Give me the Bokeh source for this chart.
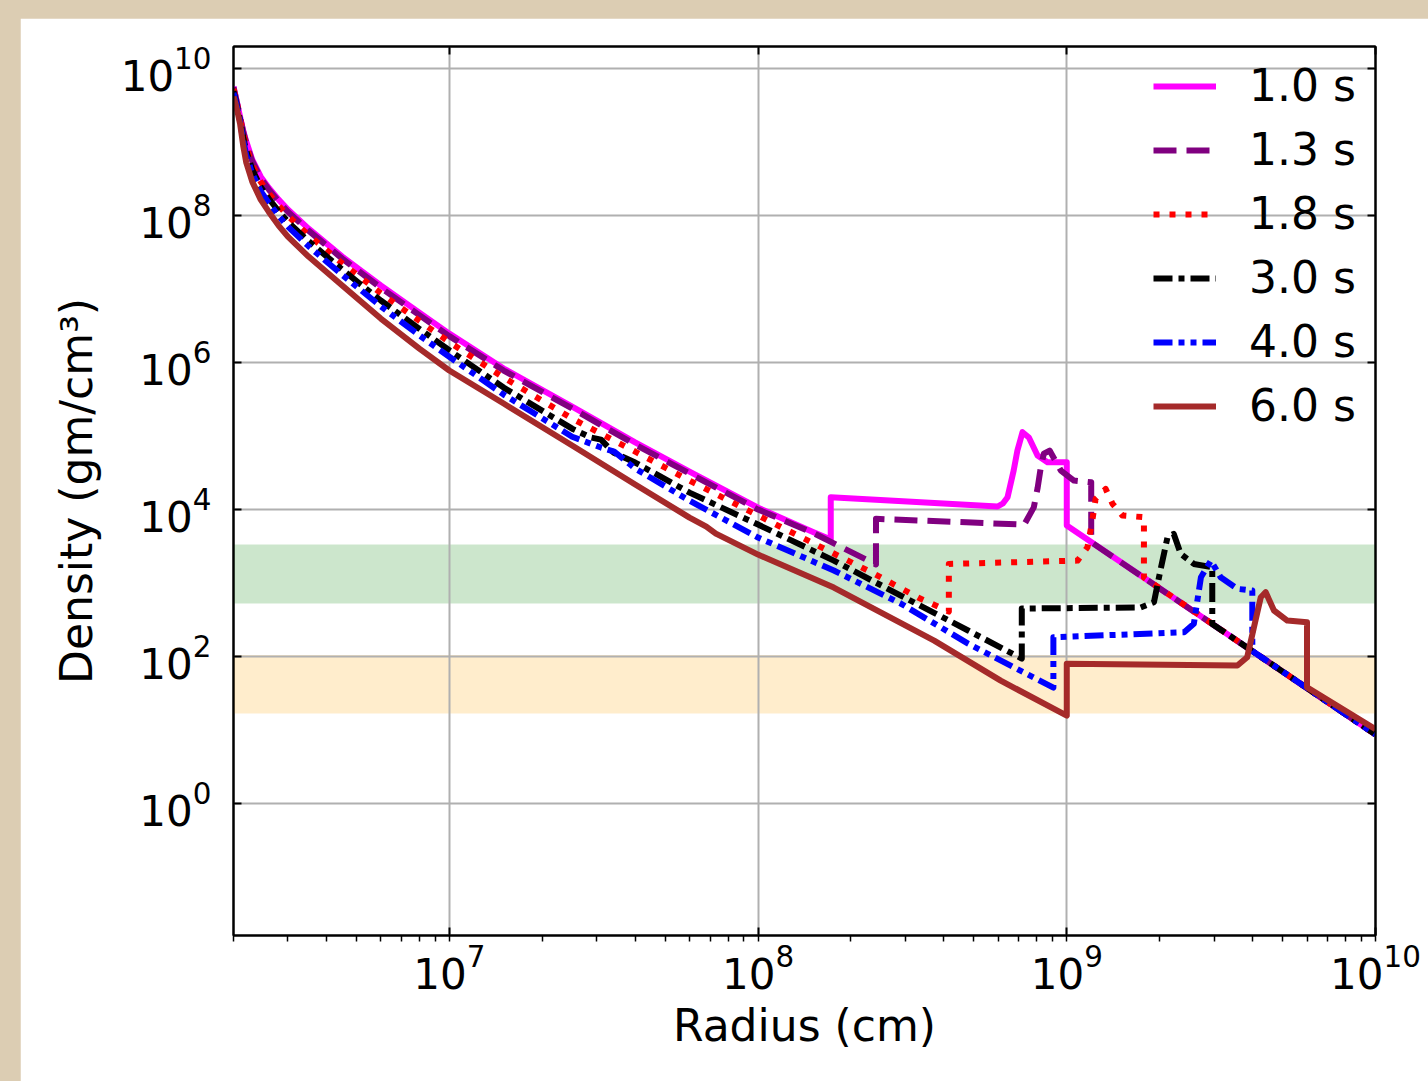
from bokeh.plotting import figure
from bokeh.models import (LogAxis, LogTicker, FixedTicker, Legend, LegendItem,
                          BoxAnnotation, Spacer, Range1d, CustomJSTickFormatter)
from bokeh.layouts import column, row
from bokeh.embed import file_html
from bokeh.resources import INLINE

# ---------------- data (radius in cm, density in gm/cm^3) ----------------
labels = ["1.0 s", "1.3 s", "1.8 s", "3.0 s", "4.0 s", "6.0 s"]

# radii shared by the inner (unshocked) part of every profile
r_inner = [2.0e6, 2.03e6, 2.06e6, 2.1e6, 2.15e6, 2.2e6, 2.3e6, 2.45e6, 2.6e6, 2.8e6, 3.0e6,
           3.5e6, 4.5e6, 6.0e6, 8.0e6, 1.0e7]

rho_in_10 = [5.69e9, 4.29e9, 3.24e9, 2.22e9, 1.43e9, 1.02e9, 5.78e8, 3.39e8, 2.4e8, 1.65e8, 1.21e8,
             6.65e7, 2.77e7, 1.12e7, 4.79e6, 2.48e6]
rho_in_13 = [5.57e9, 4.21e9, 3.18e9, 2.19e9, 1.39e9, 9.7e8, 5.51e8, 3.23e8, 2.28e8, 1.56e8, 1.13e8,
             6.25e7, 2.6e7, 1.04e7, 4.43e6, 2.29e6]
rho_in_18 = [5.3e9, 4.06e9, 3.08e9, 2.11e9, 1.29e9, 8.73e8, 4.94e8, 2.88e8, 2.02e8, 1.37e8, 9.94e7,
             5.45e7, 2.24e7, 8.8e6, 3.69e6, 1.9e6]
rho_in_30 = [4.94e9, 3.84e9, 2.93e9, 2.01e9, 1.16e9, 7.55e8, 4.23e8, 2.45e8, 1.71e8, 1.15e8, 8.24e7,
             4.49e7, 1.84e7, 7.0e6, 2.88e6, 1.47e6]
rho_in_40 = [4.67e9, 3.67e9, 2.82e9, 1.94e9, 1.06e9, 6.71e8, 3.74e8, 2.15e8, 1.5e8, 9.89e7, 7.08e7,
             3.84e7, 1.56e7, 5.82e6, 2.35e6, 1.2e6]
rho_in_60 = [4.16e9, 3.34e9, 2.6e9, 1.79e9, 8.96e8, 5.26e8, 2.9e8, 1.65e8, 1.13e8, 7.31e7, 5.18e7,
             2.77e7, 1.12e7, 3.97e6, 1.55e6, 7.8e5]

# outer parts (beyond 1e7 cm): shocked shells and the undisturbed envelope
r_out_10 = [1.5e7, 2.5e7, 4.0e7, 6.0e7, 1.0e8, 1.5e8, 1.72e8, 1.72e8, 5.97e8, 6.21e8, 6.43e8, 6.73e8,
            6.92e8, 7.19e8, 7.54e8, 8.04e8, 8.66e8, 1.0e9, 1.0e9, 1.0e10]
rho_out_10 = [8.3e5, 2.52e5, 8.2e4, 3.29e4, 1.06e4, 5.0e3, 3.9e3, 1.47e4, 1.1e4, 1.21e4, 1.47e4, 3.4e4,
              6.35e4, 1.13e5, 9.55e4, 5.43e4, 4.4e4, 4.4e4, 6.05e3, 8.7]

r_out_13 = [1.5e7, 2.5e7, 4.0e7, 6.0e7, 1.0e8, 1.5e8, 2.41e8, 2.41e8, 7.28e8, 7.82e8, 8.05e8, 8.24e8,
            8.43e8, 8.8e8, 9.57e8, 1.055e9, 1.2e9, 1.2e9, 1.0e10]
rho_out_13 = [7.8e5, 2.37e5, 7.66e4, 3.09e4, 1.0e4, 4.86e3, 1.79e3, 7.47e3, 6.25e3, 1.07e4, 1.99e4,
              3.77e4, 5.78e4, 6.35e4, 3.4e4, 2.48e4, 2.35e4, 3.6e3, 8.7]

r_out_18 = [1.5e7, 2.5e7, 4.0e7, 6.0e7, 1.0e8, 1.76e8, 2.37e8, 3.3e8, 4.15e8, 4.15e8, 1.084e9, 1.167e9,
            1.21e9, 1.24e9, 1.337e9, 1.406e9, 1.514e9, 1.778e9, 1.778e9, 1.0e10]
rho_out_18 = [6.25e5, 1.73e5, 6.15e4, 2.48e4, 8.3e3, 2.52e3, 1.35e3, 635, 409, 1.82e3, 2.02e3, 3.07e3,
              7.08e3, 1.4e4, 1.91e4, 1.2e4, 8.3e3, 7.86e3, 1.19e3, 8.7]

r_out_30 = [1.5e7, 2.5e7, 2.88e7, 3.1e7, 3.4e7, 4.0e7, 6.0e7, 1.0e8, 1.76e8, 2.9e8, 4.79e8, 7.15e8,
            7.15e8, 1.734e9, 1.916e9, 2.01e9, 2.12e9, 2.22e9, 2.34e9, 2.58e9, 2.96e9, 2.96e9, 1.0e10]
rho_out_30 = [4.57e5, 1.26e5, 9.55e4, 8.95e4, 5.97e4, 4.36e4, 1.7e4, 6.25e3, 2.02e3, 676, 226, 94, 450,
              465, 548, 1.48e3, 4.2e3, 4.67e3, 2.49e3, 1.82e3, 1.64e3, 278, 8.7]

r_out_40 = [1.5e7, 2.5e7, 3.1e7, 3.42e7, 4.0e7, 6.0e7, 1.0e8, 1.76e8, 2.9e8, 4.79e8, 9.05e8, 9.05e8,
            2.4e9, 2.58e9, 2.72e9, 2.93e9, 3.15e9, 3.57e9, 3.99e9, 3.99e9, 1.0e10]
rho_out_40 = [3.67e5, 9.8e4, 6.98e4, 6.15e4, 3.61e4, 1.32e4, 4.16e3, 1.48e3, 526, 150, 37.8, 183, 214,
              279, 1.2e3, 2.02e3, 1.2e3, 834, 791, 119, 8.7]

r_out_60 = [1.5e7, 2.5e7, 4.0e7, 6.0e7, 6.8e7, 7.3e7, 1.0e8, 1.76e8, 3.72e8, 6.11e8, 1.0e9, 1.0e9,
            3.57e9, 3.84e9, 4.04e9, 4.25e9, 4.41e9, 4.69e9, 5.18e9, 6.0e9, 6.0e9, 1.0e10]
rho_out_60 = [2.77e5, 7.43e4, 2.19e4, 7.78e3, 5.87e3, 4.71e3, 2.44e3, 869, 165, 47, 15.7, 79.6, 75.5,
              97.7, 251, 641, 750, 423, 309, 293, 38, 10.3]

green_band = [5.26e2, 3.34e3]
orange_band = [1.68e1, 1.05e2]

x_ticks = [1.0e7, 1.0e8, 1.0e9, 1.0e10]
y_ticks = [1.0e0, 1.0e2, 1.0e4, 1.0e6, 1.0e8, 1.0e10]

# ---------------- figure ----------------
FONT = "DejaVu Sans"
p = figure(width=1408, height=1063, x_axis_type="log", y_axis_type="log",
           x_range=Range1d(2.0e6, 1.0e10), y_range=Range1d(0.016, 2.0e10),
           output_backend="svg", toolbar_location=None,
           min_border_left=213, min_border_right=53, min_border_top=28, min_border_bottom=146,
           x_axis_label="Radius (cm)", y_axis_label="Density (gm/cm³)")
p.background_fill_color = "white"
p.border_fill_color = "white"
p.outline_line_color = "black"
p.outline_line_width = 2

xt = LogTicker(num_minor_ticks=10)
yt = FixedTicker(ticks=y_ticks, minor_ticks=[])
p.xaxis.ticker = xt
p.xgrid.ticker = FixedTicker(ticks=x_ticks, minor_ticks=[])
p.yaxis.ticker = yt
p.ygrid.ticker = yt

for g in (p.xgrid, p.ygrid):
    g.grid_line_color = "#b0b0b0"
    g.grid_line_width = 2

for ax in (p.xaxis, p.yaxis):
    ax.axis_line_width = 2
    ax.axis_line_color = "black"
    ax.major_tick_line_width = 2
    ax.major_tick_in = 8
    ax.major_tick_out = 0
    ax.major_label_text_font = FONT
    ax.major_label_text_font_size = "42px"
    ax.major_label_text_color = "black"
    ax.axis_label_text_font = FONT
    ax.axis_label_text_font_size = "44px"
    ax.axis_label_text_font_style = "normal"
    ax.axis_label_text_color = "black"

p.xaxis.minor_tick_in = 0
p.xaxis.minor_tick_out = 6
p.xaxis.minor_tick_line_width = 1.5
p.xaxis.major_label_standoff = 2
p.xaxis.axis_label_standoff = 8
p.yaxis.minor_tick_line_color = None
p.yaxis.major_label_standoff = 22
p.yaxis.axis_label_standoff = 16

blank = CustomJSTickFormatter(code="return ''")
top_ax = LogAxis(ticker=LogTicker(num_minor_ticks=10), formatter=blank,
                 major_tick_in=8, major_tick_out=0, major_tick_line_width=2,
                 minor_tick_line_color=None, axis_line_width=2, major_label_standoff=0)
right_ax = LogAxis(ticker=yt, formatter=blank,
                   major_tick_in=8, major_tick_out=0, major_tick_line_width=2,
                   minor_tick_line_color=None, axis_line_width=2, major_label_standoff=0)
p.add_layout(top_ax, "above")
p.add_layout(right_ax, "right")

gbox = BoxAnnotation(bottom=green_band[0], top=green_band[1], fill_color="green", fill_alpha=0.2,
                     line_color=None, level="underlay")
obox = BoxAnnotation(bottom=orange_band[0], top=orange_band[1], fill_color="orange", fill_alpha=0.2,
                     line_color=None, level="underlay")
p.center = [gbox, obox] + list(p.center)

LW = 6
series = [
    (rho_in_10, r_out_10, rho_out_10, "magenta", "solid"),
    (rho_in_13, r_out_13, rho_out_13, "purple", "23 10"),
    (rho_in_18, r_out_18, rho_out_18, "red", "6 10"),
    (rho_in_30, r_out_30, rho_out_30, "black", "19 6 6 6"),
    (rho_in_40, r_out_40, rho_out_40, "blue", "19 6 6 6 6 6"),
    (rho_in_60, r_out_60, rho_out_60, "brown", "solid"),
]
items = []
for (d_in, r_o, d_o, col, dash), lab in zip(series, labels):
    rend = p.line(r_inner + r_o, d_in + d_o, line_color=col, line_width=LW, line_dash=dash,
                  line_join="round")
    items.append(LegendItem(label=lab, renderers=[rend]))

legend = Legend(items=items, location="top_right",
                label_text_font=FONT, label_text_font_size="44px", label_text_color="black",
                glyph_width=63, glyph_height=50, label_height=50, label_width=112,
                label_standoff=33, spacing=13, padding=10, margin=4,
                border_line_alpha=0, background_fill_alpha=0)
p.add_layout(legend)

layout = column(Spacer(width=1428, height=18),
                row(Spacer(width=20, height=1063), p),
                styles={"background-color": "#dccdb3"})

open("out.html", "w").write(file_html(layout, INLINE))
